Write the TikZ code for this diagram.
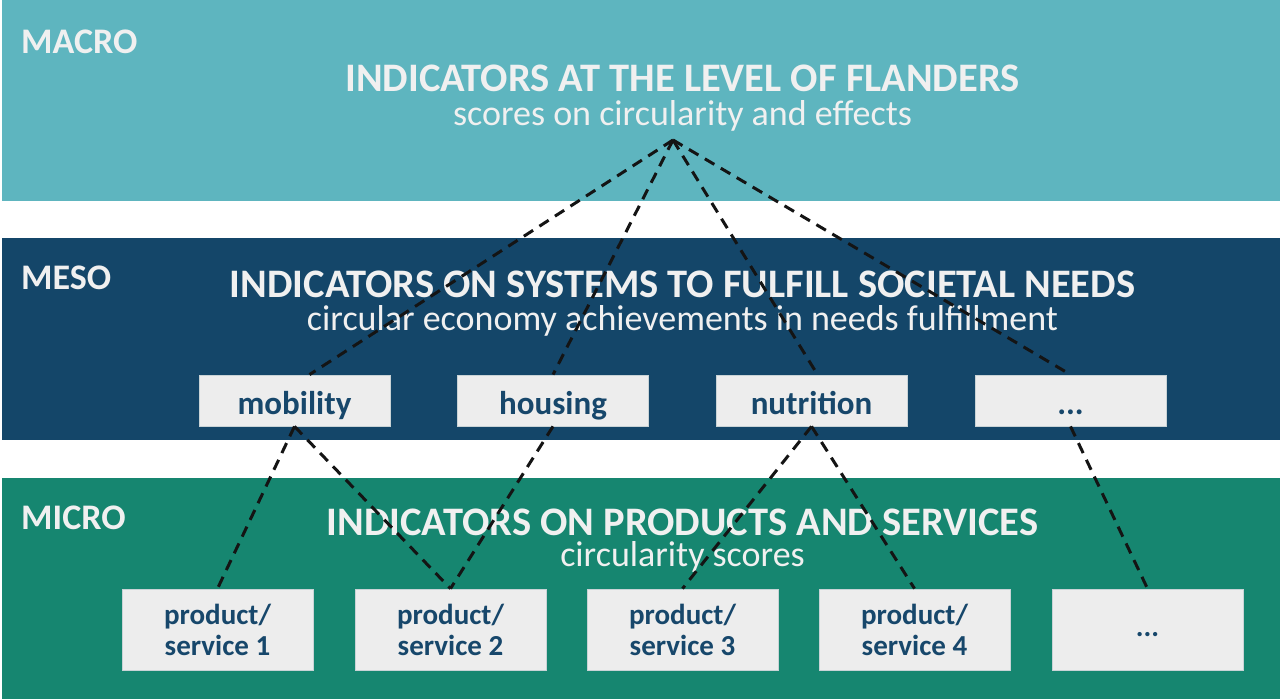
\documentclass[tikz,border=0pt]{standalone}
\usepackage{fontspec}
\setmainfont{Carlito}
\usetikzlibrary{calc}
\definecolor{macroc}{HTML}{5EB5BF}
\definecolor{mesoc}{HTML}{144669}
\definecolor{microc}{HTML}{168670}
\definecolor{boxc}{HTML}{EDEDED}
\definecolor{boxline}{HTML}{C9D3D6}
\definecolor{navy}{HTML}{17476B}
\definecolor{txt}{HTML}{F0F0F0}
\definecolor{dashc}{HTML}{141414}
\begin{document}
\begin{tikzpicture}[x=1pt,y=-1pt,
  lvl/.style={font=\fontsize{36}{40}\selectfont\bfseries, text=txt, anchor=base west, inner sep=0pt},
  ttl/.style={font=\fontsize{40.5}{44}\selectfont\bfseries, text=txt, anchor=base, inner sep=0pt},
  sub/.style={font=\fontsize{36}{40}\selectfont, text=txt, anchor=base, inner sep=0pt},
  mesobox/.style={fill=boxc, draw=boxline, line width=0.8pt, minimum width=191pt, minimum height=51pt, inner sep=0pt, font=\fontsize{33}{36}\selectfont\bfseries, text=navy, text height=34pt, text depth=6pt},
  microbox/.style={fill=boxc, draw=boxline, line width=0.8pt, minimum width=191pt, minimum height=81pt, inner sep=0pt, font=\fontsize{29}{31}\selectfont\bfseries, text=navy, align=center},
  dotsbox/.style={microbox, text height=15pt, text depth=2pt},
  link/.style={draw=dashc, line width=3pt, dash pattern=on 11pt off 7.5pt}]
\useasboundingbox (0,0) rectangle (1280,699);
\fill[white] (0,0) rectangle (1280,699);
% bands
\fill[macroc] (2,0) rectangle (1280,201);
\fill[mesoc] (2,238) rectangle (1280,440);
\fill[microc] (2,478) rectangle (1280,699);
% level labels
\node[lvl] (lmacro) at (21,53) {MACRO};
\node[lvl] (lmeso) at (21,289) {MESO};
\node[lvl] (lmicro) at (21,529) {MICRO};
% titles
\node[ttl] (tmacro) at (682.5,91) {INDICATORS AT THE LEVEL OF FLANDERS};
\node[sub] (smacro) at (682.5,125) {scores on circularity and effects};
\node[ttl] (tmeso) at (682.5,297) {INDICATORS ON SYSTEMS TO FULFILL SOCIETAL NEEDS};
\node[sub] (smeso) at (682.5,330) {circular economy achievements in needs fulfillment};
\node[ttl] (tmicro) at (682.5,535) {INDICATORS ON PRODUCTS AND SERVICES};
\node[sub] (smicro) at (682.5,566) {circularity scores};
% meso boxes
\node[mesobox] (mob) at (294.5,400.5) {mobility};
\node[mesobox] (hou) at (553,400.5) {housing};
\node[mesobox] (nut) at (811.5,400.5) {nutrition};
\node[mesobox] (etc) at (1070.5,400.5) {...};
% micro boxes
\node[microbox] (p1) at (217.5,629.5) {product/\\service 1};
\node[microbox] (p2) at (450.5,629.5) {product/\\service 2};
\node[microbox] (p3) at (682.5,629.5) {product/\\service 3};
\node[microbox] (p4) at (914.5,629.5) {product/\\service 4};
\node[dotsbox] (p5) at (1147.5,629.5) {...};
% connectors
\coordinate (apex) at (673,140);
\draw[link] (apex) -- ($(mob.north)+(15,0)$);
\draw[link] (apex) -- (hou.north);
\draw[link] (apex) -- ($(nut.north)+(6,0)$);
\draw[link] (apex) -- (etc.north);
\draw[link] (mob.south) -- (p1.north);
\draw[link] (mob.south) -- (p2.north);
\draw[link] (hou.south) -- (p2.north);
\draw[link] (nut.south) -- (p3.north);
\draw[link] (nut.south) -- (p4.north);
\draw[link] (etc.south) -- (p5.north);
\end{tikzpicture}
\end{document}
